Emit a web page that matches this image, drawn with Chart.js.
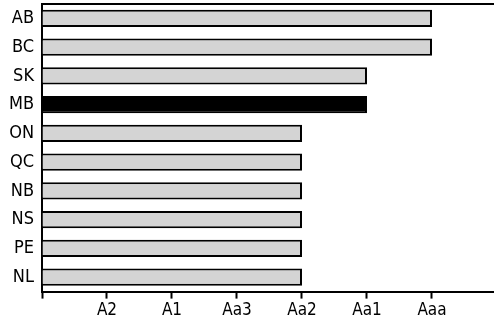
<!DOCTYPE html>
<html>
<head>
<meta charset="utf-8">
<script src="https://cdn.jsdelivr.net/npm/chart.js@4"></script>
<style>
  html, body { margin: 0; padding: 0; background: #fff; }
  #wrap { width: 494px; height: 331px; }
</style>
</head>
<body>
<div id="wrap"><canvas id="ratings"></canvas></div>
<script>
// provinces and their rating (1 = A2 ... 6 = Aaa)
const provinces = ['AB', 'BC', 'SK', 'MB', 'ON', 'QC', 'NB', 'NS', 'PE', 'NL'];
const ratingLevels = [6, 6, 5, 5, 4, 4, 4, 4, 4, 4];
const ratingLabels = ['A2', 'A1', 'Aa3', 'Aa2', 'Aa1', 'Aaa'];
const highlight = 'MB';

const fontFamily = '"DejaVu Sans Condensed", "Liberation Sans Narrow", "Open Sans", sans-serif';

// top frame line across the plot
const topLine = {
    id: 'topLine',
    afterDraw: function (chart) {
        const c = chart.ctx;
        const area = chart.chartArea;
        c.save();
        c.strokeStyle = '#000';
        c.lineWidth = 2;
        c.beginPath();
        c.moveTo(area.left - 1, area.top);
        c.lineTo(area.right, area.top);
        c.stroke();
        c.restore();
    }
};

const ctx = document.getElementById('ratings').getContext('2d');
const chart = new Chart(ctx, {
    type: 'bar',
    data: {
        labels: provinces,
        datasets: [{
            data: ratingLevels,
            backgroundColor: provinces.map(p => p === highlight ? '#000' : '#d4d4d4'),
            borderColor: '#000',
            borderWidth: 2,
            borderSkipped: 'left',
            barPercentage: 0.6,
            categoryPercentage: 1
        }]
    },
    plugins: [topLine],
    options: {
        indexAxis: 'y',
        responsive: true,
        maintainAspectRatio: false,
        animation: false,
        layout: { autoPadding: false, padding: { top: 4, right: 0, left: 0, bottom: 8 } },
        plugins: {
            legend: { display: false },
            tooltip: { enabled: false }
        },
        scales: {
            x: {
                min: 0,
                max: 6.954,
                afterBuildTicks: (axis) => {
                    axis.ticks = [0, 1, 2, 3, 4, 5, 6].map(v => ({ value: v }));
                },
                afterFit: (axis) => { axis.paddingLeft = 0; axis.paddingRight = 0; },
                ticks: {
                    color: '#000',
                    padding: 2,
                    maxRotation: 0,
                    autoSkip: false,
                    font: { family: fontFamily, size: 17 },
                    callback: (v) => ratingLabels[v - 1] || ''
                },
                grid: {
                    drawOnChartArea: false,
                    drawTicks: true,
                    tickLength: 7,
                    tickWidth: 2,
                    color: '#000'
                },
                border: { display: true, color: '#000', width: 2 }
            },
            y: {
                afterFit: (axis) => {
                    axis.width = 42;
                    axis.paddingTop = 0;
                    axis.paddingBottom = 0;
                },
                ticks: {
                    color: '#000',
                    padding: 8,
                    font: { family: fontFamily, size: 18 }
                },
                grid: { display: false, drawTicks: false },
                border: { display: true, color: '#000', width: 2 }
            }
        }
    }
});
</script>
</body>
</html>
